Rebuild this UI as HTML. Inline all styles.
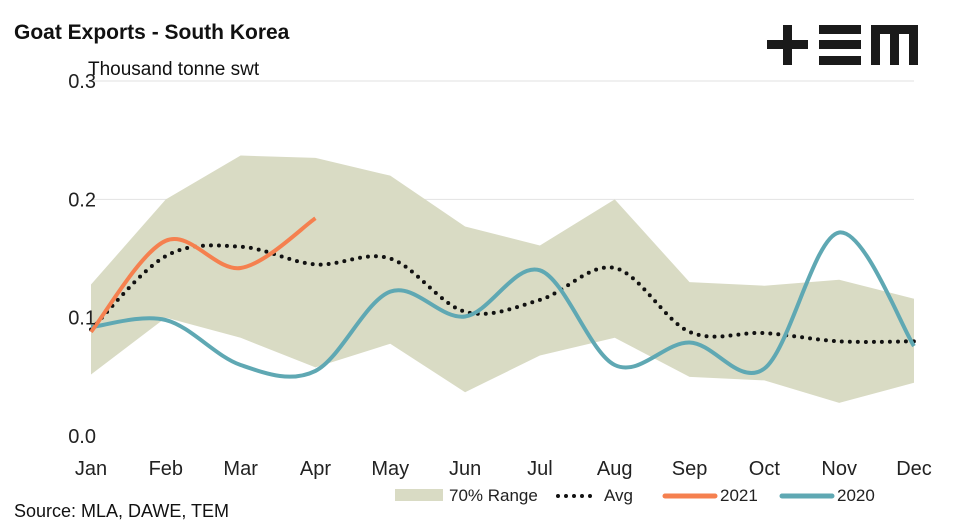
<!DOCTYPE html>
<html><head><meta charset="utf-8"><style>
body{margin:0;background:#fff;width:954px;height:527px;overflow:hidden;font-family:"Liberation Sans",sans-serif}
</style></head><body>
<svg id="c" width="954" height="527" xmlns="http://www.w3.org/2000/svg" font-family="Liberation Sans, sans-serif">
<text x="14" y="39" font-size="21" font-weight="bold" fill="#111">Goat Exports - South Korea</text>
<text x="88" y="75" font-size="19" fill="#111">Thousand tonne swt</text>
<g fill="#1a1a1a">
<rect x="767" y="40" width="41" height="9"/><rect x="783" y="25" width="9" height="40"/>
<rect x="819" y="25" width="42" height="9"/><rect x="819" y="40" width="42" height="9"/><rect x="819" y="56" width="42" height="9"/>
<rect x="871" y="25" width="47" height="9"/><rect x="871" y="25" width="9" height="40"/><rect x="890" y="25" width="9" height="40"/><rect x="909" y="25" width="9" height="40"/>
</g>
<g id="grid"></g><g id="marks"></g><g id="axes"></g>
<text x="14" y="517" font-size="18" fill="#111">Source: MLA, DAWE, TEM</text>
<g font-size="17" fill="#222">
<rect x="395" y="489" width="48" height="12" fill="#d9dbc4"/>
<text x="449" y="501">70% Range</text>
<line x1="558" y1="496" x2="598" y2="496" stroke="#111" stroke-width="4" stroke-dasharray="0 8" stroke-linecap="round"/>
<text x="604" y="501">Avg</text>
<line x1="665" y1="496" x2="715" y2="496" stroke="#f5804f" stroke-width="5" stroke-linecap="round"/>
<text x="720" y="501">2021</text>
<line x1="782" y1="496" x2="832" y2="496" stroke="#5fa8b3" stroke-width="5" stroke-linecap="round"/>
<text x="837" y="501">2020</text>
</g>
</svg>
<script>
const months=["Jan","Feb","Mar","Apr","May","Jun","Jul","Aug","Sep","Oct","Nov","Dec"];
const yTicks=[0,0.1,0.2,0.3];
const rangeUpper=[0.128,0.2,0.237,0.235,0.22,0.177,0.161,0.2,0.13,0.127,0.132,0.116];
const rangeLower=[0.052,0.1,0.083,0.058,0.078,0.037,0.068,0.083,0.05,0.047,0.028,0.045];
const avg=[0.09,0.152,0.16,0.145,0.15,0.105,0.115,0.142,0.088,0.087,0.08,0.08];
const s2021=[0.088,0.165,0.142,0.184];
const s2020=[0.092,0.098,0.06,0.055,0.122,0.101,0.14,0.06,0.079,0.057,0.172,0.076];
const NS="http://www.w3.org/2000/svg";
const x=i=>91+i*(914-91)/11, y=v=>436-v*(436-81)/0.3;
function mk(t,a,p){const e=document.createElementNS(NS,t);for(const k in a)e.setAttribute(k,a[k]);document.getElementById(p).appendChild(e);return e;}
yTicks.forEach(v=>{if(v>0){const g=mk('line',{x1:91,x2:914,y1:y(v),y2:y(v),stroke:'#e2e2e2','stroke-width':1},'grid');}
const t=mk('text',{x:96,y:y(v)+7,'text-anchor':'end','font-size':20,fill:'#222'},'axes');t.textContent=v.toFixed(1);
});
months.forEach((m,i)=>{const t=mk('text',{x:x(i),y:475,'text-anchor':'middle','font-size':20,fill:'#222'},'axes');t.textContent=m;
});
let d='M'+rangeUpper.map((v,i)=>x(i)+','+y(v)).join('L');
for(let i=rangeLower.length-1;i>=0;i--)d+='L'+x(i)+','+y(rangeLower[i]);
const area=mk('path',{d:d+'Z',fill:'#d9dbc4'},'marks');

function smooth(arr){const p=arr.map((v,i)=>[x(i),y(v)]);let s='M'+p[0];
for(let i=0;i<p.length-1;i++){const p0=p[i-1]||p[i],p1=p[i],p2=p[i+1],p3=p[i+2]||p2;
s+='C'+(p1[0]+(p2[0]-p0[0])/6)+','+(p1[1]+(p2[1]-p0[1])/6)+' '+(p2[0]-(p3[0]-p1[0])/6)+','+(p2[1]-(p3[1]-p1[1])/6)+' '+p2;}return s;}
const a=mk('path',{d:smooth(avg),fill:'none',stroke:'#111','stroke-width':4,'stroke-dasharray':'0 8','stroke-linecap':'round'},'marks');

const l20=mk('path',{d:smooth(s2020),fill:'none',stroke:'#5fa8b3','stroke-width':4},'marks');

const l21=mk('path',{d:smooth(s2021),fill:'none',stroke:'#f5804f','stroke-width':4},'marks');

</script>
</body></html>
